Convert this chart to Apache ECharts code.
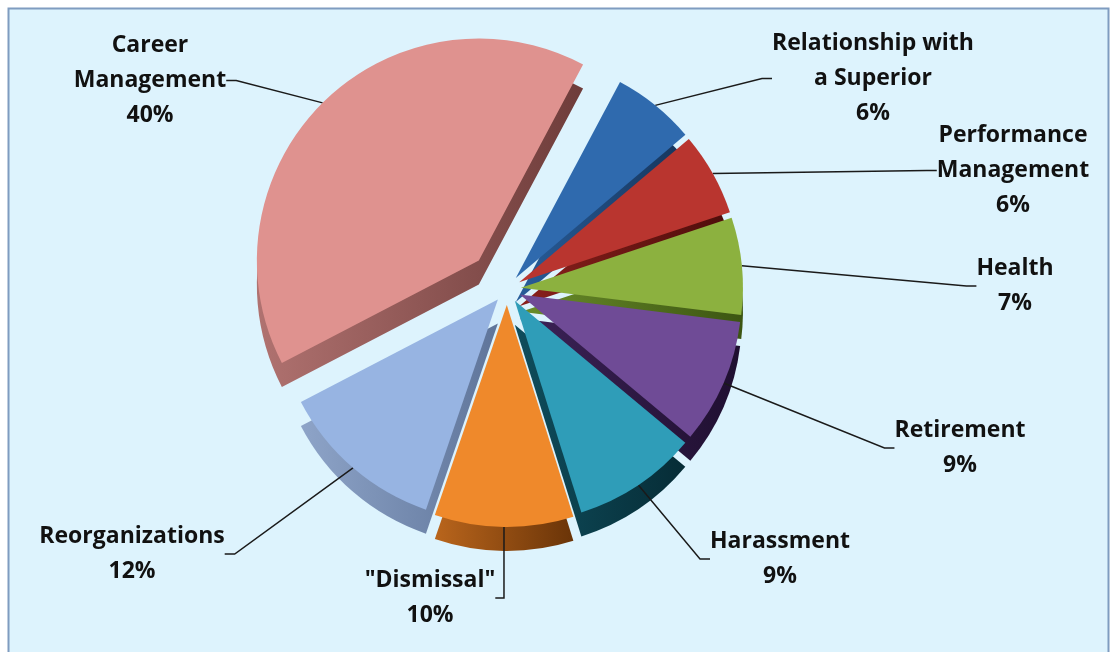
<!DOCTYPE html>
<html><head><meta charset="utf-8">
<script src="https://cdn.jsdelivr.net/npm/echarts@6/dist/echarts.min.js"></script>
<style>html,body{margin:0;padding:0;background:#fff}#c{width:1116px;height:652px}</style>
</head><body><div id="c"></div>
<script>
// ---- data ----
const categories = ['Relationship with\na Superior', 'Performance\nManagement', 'Health', 'Retirement', 'Harassment', '"Dismissal"', 'Reorganizations', 'Career\nManagement'];
const shares = [6, 6, 7, 9, 9, 10, 12, 40];

// ---- styles / layout (not data) ----
const topColors   = ['#2f6aae', '#b9352f', '#8cb13f', '#6f4b96', '#2f9db8', '#ef892b', '#97b4e2', '#df928f'];
const sideLight   = ['#285d9a', '#8a201c', '#6a8d2a', '#3d2358', '#0f4d5c', '#b9651c', '#8ea4c8', '#b07270'];
const sideDark    = ['#16355c', '#4e0d0b', '#3c5512', '#1f0f30', '#062c36', '#6a3408', '#5f759a', '#6e3c3a'];
const labelAnchors = [[873, 26], [1013, 118], [1015, 251], [960, 413], [780, 524], [430, 563], [132, 519], [150, 28]];
const explode = [14, 14, 14, 14, 14, 16, 14, 40];
const START = 62, CX = 507, CY = 289, R = 222, DEPTH = 24;

const total = shares.reduce(function (a, b) { return a + b; }, 0);

// explode direction of each slice, derived from the shares
function midOffset(i) {
  let before = 0;
  for (let k = 0; k < i; k++) before += shares[k];
  const frac = (before + shares[i] / 2) / total;
  const a = (START - 360 * frac) * Math.PI / 180;
  return [Math.cos(a) * explode[i], -Math.sin(a) * explode[i]];
}

function sideFill(i) {
  return {
    type: 'linear', x: 0, y: 0, x2: 1, y2: 0,
    colorStops: [{offset: 0, color: sideLight[i]}, {offset: 1, color: sideDark[i]}]
  };
}

function makePie(idx, depth) {
  const off = midOffset(idx);
  return {
    type: 'pie',
    startAngle: START,
    clockwise: true,
    center: [CX + off[0], CY + off[1] + (depth ? DEPTH : 0)],
    radius: [0, R],
    avoidLabelOverlap: false,
    minShowLabelAngle: 0,
    silent: true,
    animation: false,
    z: depth ? 1 : 2,
    emphasis: {disabled: true},
    itemStyle: {borderWidth: 0},
    label: {
      show: false,
      formatter: '{b}\n{c}%',
      color: '#111',
      fontFamily: 'Open Sans',
      fontWeight: 'bold',
      fontSize: 23,
      lineHeight: 35
    },
    labelLine: {
      show: false,
      length: 20,
      length2: 10,
      lineStyle: {color: '#1a1a1a', width: 1.5}
    },
    labelLayout: depth ? null : function (p) {
      const a = labelAnchors[p.dataIndex];
      return {x: a[0], y: a[1], align: 'center', verticalAlign: 'top'};
    },
    data: categories.map(function (name, i) {
      const mine = i === idx;
      return {
        name: name,
        value: shares[i],
        itemStyle: {color: mine ? (depth ? sideFill(i) : topColors[i]) : 'rgba(0,0,0,0)'},
        label: {show: mine && !depth},
        labelLine: {show: mine && !depth}
      };
    })
  };
}

const series = [];
categories.forEach(function (c, i) { series.push(makePie(i, true)); });
categories.forEach(function (c, i) { series.push(makePie(i, false)); });

const chart = echarts.init(document.getElementById('c'), null, {renderer: 'canvas'});
chart.setOption({
  backgroundColor: '#ffffff',
  graphic: [{
    type: 'rect', z: -10, silent: true,
    shape: {x: 8.5, y: 8.5, width: 1100, height: 660},
    style: {fill: '#ddf3fd', stroke: '#7f9cc0', lineWidth: 2}
  }],
  series: series
});
</script></body></html>
